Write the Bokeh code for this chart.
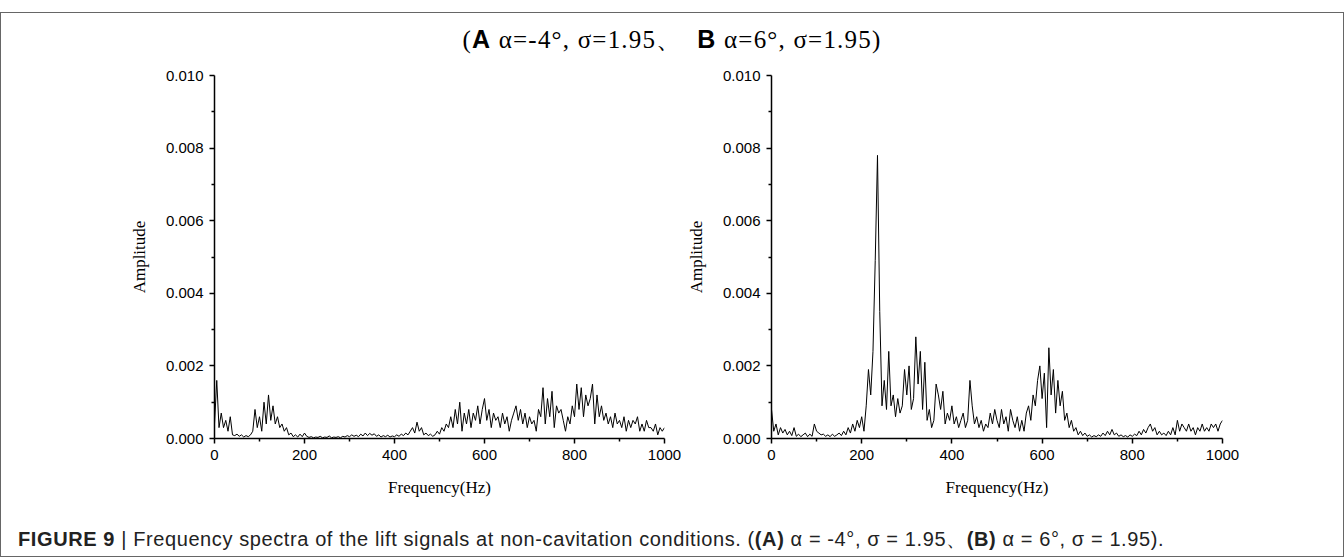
from bokeh.plotting import figure
from bokeh.models import Div, Range1d, FixedTicker, NumeralTickFormatter
from bokeh.layouts import column, row
from bokeh.embed import file_html
from bokeh.resources import INLINE

# frequency grid (Hz), 5 Hz spacing
freq = list(range(0, 1001, 5))

# (A) alpha=-4 deg, sigma=1.95
amp_a = [
    0.0004, 0.0016, 0.0003, 0.0007, 0.0003, 0.0005, 0.0002, 0.0006, 0.0001, 0.00008,
    0.00012, 0.00006, 0.0001, 0.00004, 0.00008, 0.00005, 0.0001, 0.0002, 0.0008, 0.0003,
    0.0006, 0.0002, 0.001, 0.0004, 0.0012, 0.0005, 0.0009, 0.0004, 0.0006, 0.0003,
    0.0004, 0.0002, 0.0003, 0.0001, 0.00015, 0.00005, 0.0001, 0.00004, 0.00012, 0.00005,
    0.00015, 0.00006, 0.00003, 0.00005, 0.00002, 0.00004, 0.00003, 0.00006, 0.00002, 0.00004,
    0.00003, 0.00007, 0.00002, 0.00004, 0.00003, 0.00005, 0.00002, 0.00006, 0.00004, 0.00008,
    0.00005, 0.0001, 0.00006, 0.00009, 0.00005, 0.00012, 0.00007, 0.00015, 0.00008, 0.00014,
    0.00009, 0.00013, 0.00006, 0.0001, 0.00004, 0.00008, 0.00005, 0.00009, 0.00004, 0.00007,
    0.00005, 0.0001, 0.00006, 0.00012, 0.00008, 0.00015, 0.0001, 0.0002, 0.0003, 0.00015,
    0.00045, 0.0002, 0.0003, 0.0001, 0.00015, 0.00008, 0.00012, 0.00006, 0.0001, 0.0002,
    0.00012, 0.0003, 0.0002, 0.0004, 0.0003, 0.0006, 0.0003, 0.0008, 0.0004, 0.001,
    0.0002, 0.0007, 0.0004, 0.0008, 0.0003, 0.0007, 0.0005, 0.0009, 0.0004, 0.0008,
    0.0011, 0.0005, 0.0008, 0.0003, 0.0007, 0.0005, 0.0006, 0.0003, 0.0007, 0.0004,
    0.0006, 0.0002, 0.0005, 0.0007, 0.0009, 0.0005, 0.0008, 0.0004, 0.0007, 0.0003,
    0.0006, 0.0004, 0.0005, 0.0002, 0.0008, 0.0006, 0.0014, 0.0004, 0.0011, 0.0006,
    0.0013, 0.0003, 0.0009, 0.0007, 0.0008, 0.0005, 0.0002, 0.0006, 0.0004, 0.0009,
    0.0006, 0.0015, 0.0008, 0.0014, 0.0006, 0.0012, 0.0009, 0.0011, 0.0015, 0.0004,
    0.0012, 0.0006, 0.0009, 0.0005, 0.0007, 0.0004, 0.0006, 0.0003, 0.0007, 0.0004,
    0.0005, 0.0003, 0.0006, 0.0002, 0.0005, 0.0003, 0.0005, 0.0004, 0.0006, 0.0002,
    0.0004, 0.0002, 0.0005, 0.0003, 0.0003, 0.0002, 0.0004, 0.0001, 0.0003, 0.0002,
    0.0003,
]

# (B) alpha=6 deg, sigma=1.95
amp_b = [
    0.0008, 0.0002, 0.0004, 0.0001, 0.0003, 0.00015, 0.00025, 0.0001, 0.0002, 0.00008,
    0.0003, 0.00006, 0.00012, 0.00005, 0.0001, 0.00015, 0.00005, 0.00012, 0.00006, 0.0004,
    0.0002, 0.00015, 0.0001, 0.00012, 0.00006, 0.0001, 0.00005, 0.00012, 0.00006, 0.0001,
    0.00015, 0.00008, 0.0002, 0.0001, 0.0003, 0.00015, 0.0004, 0.0002, 0.0005, 0.0003,
    0.0006, 0.0002, 0.0009, 0.0019, 0.0012, 0.0024, 0.0049, 0.0078, 0.0035, 0.0009,
    0.0016, 0.0008, 0.0024, 0.0009, 0.0012, 0.0006, 0.0011, 0.0007, 0.0009, 0.0019,
    0.0012, 0.002, 0.0008, 0.0011, 0.0028, 0.0015, 0.0024, 0.0008, 0.0021, 0.0005,
    0.0008, 0.0003, 0.0005, 0.0015, 0.0012, 0.0008, 0.0013, 0.0004, 0.0007, 0.0005,
    0.0009, 0.0004, 0.0006, 0.0003, 0.0005, 0.0007, 0.0003, 0.0005, 0.0016, 0.0009,
    0.0004, 0.0006, 0.0003, 0.0005, 0.0002, 0.0004, 0.0003, 0.0007, 0.0004, 0.0008,
    0.0005, 0.0003, 0.0008, 0.0004, 0.0006, 0.0002, 0.0008, 0.0005, 0.0003, 0.0006,
    0.0002, 0.0005, 0.0002, 0.0007, 0.0009, 0.0005, 0.0012, 0.0009, 0.0016, 0.002,
    0.0011, 0.0018, 0.0003, 0.0025, 0.0012, 0.0019, 0.0007, 0.0016, 0.0009, 0.0013,
    0.0005, 0.0007, 0.0003, 0.0005, 0.0002, 0.0003, 0.0001, 0.0002, 0.00008, 0.00015,
    0.00006, 0.0001, 0.00004, 0.00008, 0.00005, 0.0001, 0.00006, 0.00015, 0.00008, 0.0002,
    0.0001, 0.00025, 0.0001, 0.00015, 0.00006, 0.0001, 0.00005, 0.00008, 0.00004, 0.0001,
    0.00006, 0.00012, 0.00008, 0.0002, 0.0001, 0.00025, 0.00015, 0.0003, 0.0004, 0.0002,
    0.0003, 0.0001, 0.0002, 0.0001, 0.00015, 0.00008, 0.0002, 0.0001, 0.0003, 0.0001,
    0.0005, 0.0002, 0.0004, 0.0003, 0.0002, 0.0004, 0.0002, 0.0003, 0.0001, 0.0003,
    0.0002, 0.0004, 0.0002, 0.0003, 0.0002, 0.0004, 0.0003, 0.0004, 0.0002, 0.0004,
    0.0005,
]

y_ticks = [0.000, 0.002, 0.004, 0.006, 0.008, 0.010]
y_minor = [0.001, 0.003, 0.005, 0.007, 0.009]
x_ticks = [0, 200, 400, 600, 800, 1000]
x_minor = [100, 300, 500, 700, 900]

title_html = (
    "(<span style=\"font-family:'Liberation Sans';font-weight:bold\">A</span> "
    "\u03b1=-4\u00b0, \u03c3=1.95\u3001&nbsp;&nbsp;"
    "<span style=\"font-family:'Liberation Sans';font-weight:bold\">B</span> "
    "\u03b1=6\u00b0, \u03c3=1.95)"
)
caption_html = (
    "<b>FIGURE 9</b> | Frequency spectra of the lift signals at non-cavitation conditions. "
    "(<b>(A)</b> \u03b1 = -4\u00b0, \u03c3 = 1.95\u3001<b>(B)</b> \u03b1 = 6\u00b0, \u03c3 = 1.95)."
)


def make(amp, border_left, border_right, inner):
    p = figure(width=border_left + inner + border_right,
               height=442,
               x_range=Range1d(0, 1000), y_range=Range1d(0, 0.010),
               output_backend="svg", toolbar_location=None,
               min_border_left=border_left, min_border_right=border_right,
               min_border_top=17, min_border_bottom=62)
    p.line(freq, amp, color="black", line_width=1)
    p.outline_line_color = None
    p.xgrid.visible = False
    p.ygrid.visible = False
    p.yaxis.ticker = FixedTicker(ticks=y_ticks, minor_ticks=y_minor)
    p.xaxis.ticker = FixedTicker(ticks=x_ticks, minor_ticks=x_minor)
    p.yaxis.formatter = NumeralTickFormatter(format="0.000")
    for ax in (p.xaxis[0], p.yaxis[0]):
        ax.axis_line_width = 1.5
        ax.axis_line_color = "black"
        ax.major_tick_line_width = 1.5
        ax.minor_tick_line_width = 1.5
        ax.major_tick_in = 0
        ax.major_tick_out = 5
        ax.minor_tick_in = 0
        ax.minor_tick_out = 3
        ax.major_label_text_font = "Liberation Sans"
        ax.major_label_text_font_size = "15px"
        ax.major_label_text_color = "black"
        ax.major_label_standoff = 6
        ax.axis_label_text_font = "Liberation Serif"
        ax.axis_label_text_font_size = "17px"
        ax.axis_label_text_font_style = "normal"
        ax.axis_label_text_color = "black"
    p.xaxis.axis_label = "Frequency(Hz)"
    p.yaxis.axis_label = "Amplitude"
    p.xaxis.axis_label_standoff = 15
    p.yaxis.axis_label_standoff = 14
    return p


pa = make(amp_a, 213, 17, 450)
pb = make(amp_b, 90, 121, 451)

title = Div(text="<div style=\"width:1326px;text-align:center;font-family:'Liberation Serif';"
                 "font-size:25px;letter-spacing:1.2px;padding-top:12px;padding-left:16px;"
                 "line-height:28px;color:black;white-space:nowrap\">" + title_html + "</div>",
            width=1342, height=45, margin=0)
caption = Div(text="<div style=\"width:1320px;font-family:'Liberation Sans';font-size:20px;"
                   "letter-spacing:0.6px;line-height:23px;padding-top:28px;padding-left:17px;"
                   "color:#222;white-space:nowrap\">" + caption_html + "</div>",
              width=1342, height=56, margin=0)

layout = column(title, row(pa, pb), caption,
                styles={"border": "1px solid #666"},
                margin=(12, 0, 0, 0))

open("out.html", "w").write(file_html(layout, INLINE))
